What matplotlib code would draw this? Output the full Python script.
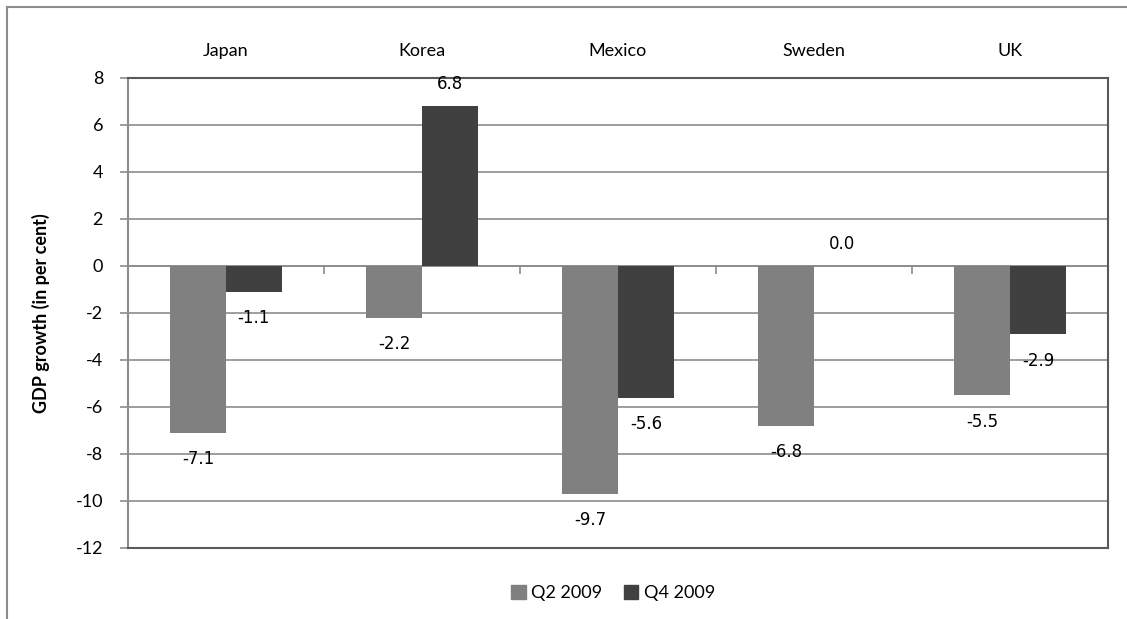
import numpy as np
import matplotlib
matplotlib.use('Agg')
import matplotlib.pyplot as plt
from matplotlib.patches import Rectangle
from matplotlib.lines import Line2D

# Data
countries = ['Japan', 'Korea', 'Mexico', 'Sweden', 'UK']
q2_2009 = [-7.1, -2.2, -9.7, -6.8, -5.5]
q4_2009 = [-1.1, 6.8, -5.6, 0.0, -2.9]
series_names = ['Q2 2009', 'Q4 2009']
series_colors = ['#808080', '#404040']
yticks = list(range(-12, 9, 2))

plt.rcParams['font.family'] = ['Lato', 'DejaVu Sans']

fig = plt.figure(figsize=(11.27, 6.19), dpi=100)
ax = fig.add_axes([128 / 1127, 1 - 548 / 619, 980 / 1127, 470 / 619])

# outer chart border (top and left visible)
fig.add_artist(Line2D([7 / 1127, 7 / 1127], [0, 1 - 7 / 619], transform=fig.transFigure,
                      color='#8c8c8c', lw=1.5))
fig.add_artist(Line2D([7 / 1127, 1], [1 - 7 / 619, 1 - 7 / 619], transform=fig.transFigure,
                      color='#8c8c8c', lw=1.5))

x = np.arange(len(countries))
w = 0.285
bars1 = ax.bar(x - w / 2, q2_2009, w, color=series_colors[0], zorder=3)
bars2 = ax.bar(x + w / 2, q4_2009, w, color=series_colors[1], zorder=3)

for bars, vals in [(bars1, q2_2009), (bars2, q4_2009)]:
    for b, v in zip(bars, vals):
        cx = b.get_x() + b.get_width() / 2
        off = 16 if v >= 0 else -19
        ax.annotate(f'{v:.1f}', (cx, v), xytext=(0, off), textcoords='offset points',
                    ha='center', va='center', fontsize=12, family='DejaVu Sans', zorder=4)

ax.set_xlim(-0.5, len(countries) - 0.5)
ax.set_ylim(-12, 8)
ax.set_yticks(yticks)
ax.set_yticklabels([str(t) for t in yticks], fontsize=13)
ax.yaxis.grid(True, color='#8c8c8c', lw=1.2, zorder=0)
ax.axhline(0, color='#8c8c8c', lw=1.2, zorder=2)

# category labels at top, ticks at zero line
ax.xaxis.tick_top()
ax.set_xticks(x)
ax.set_xticklabels(countries, fontsize=13)
ax.tick_params(axis='x', length=0, pad=14)
ax.tick_params(axis='y', length=6, width=1.2, color='#8c8c8c', pad=12)
ax.vlines(np.arange(0.5, len(countries) - 0.5, 1), -0.35, 0, color='#8c8c8c', lw=1.2, zorder=2)

for s in ['top', 'right', 'bottom']:
    ax.spines[s].set_color('#595959')
    ax.spines[s].set_linewidth(1.5)
ax.spines['left'].set_color('#8c8c8c')
ax.spines['left'].set_linewidth(1.5)

ax.set_ylabel('GDP growth (in per cent)', fontsize=13, fontweight='bold', labelpad=18)

handles = [Rectangle((0, 0), 1, 1, color=c) for c in series_colors]
fig.legend(handles, series_names, loc='center', bbox_to_anchor=(613 / 1127, 1 - 593 / 619),
           ncol=2, frameon=False, fontsize=13, handlelength=0.8, handleheight=0.8,
           handletextpad=0.3, columnspacing=1.2)

fig.savefig('out.png', dpi=100)
